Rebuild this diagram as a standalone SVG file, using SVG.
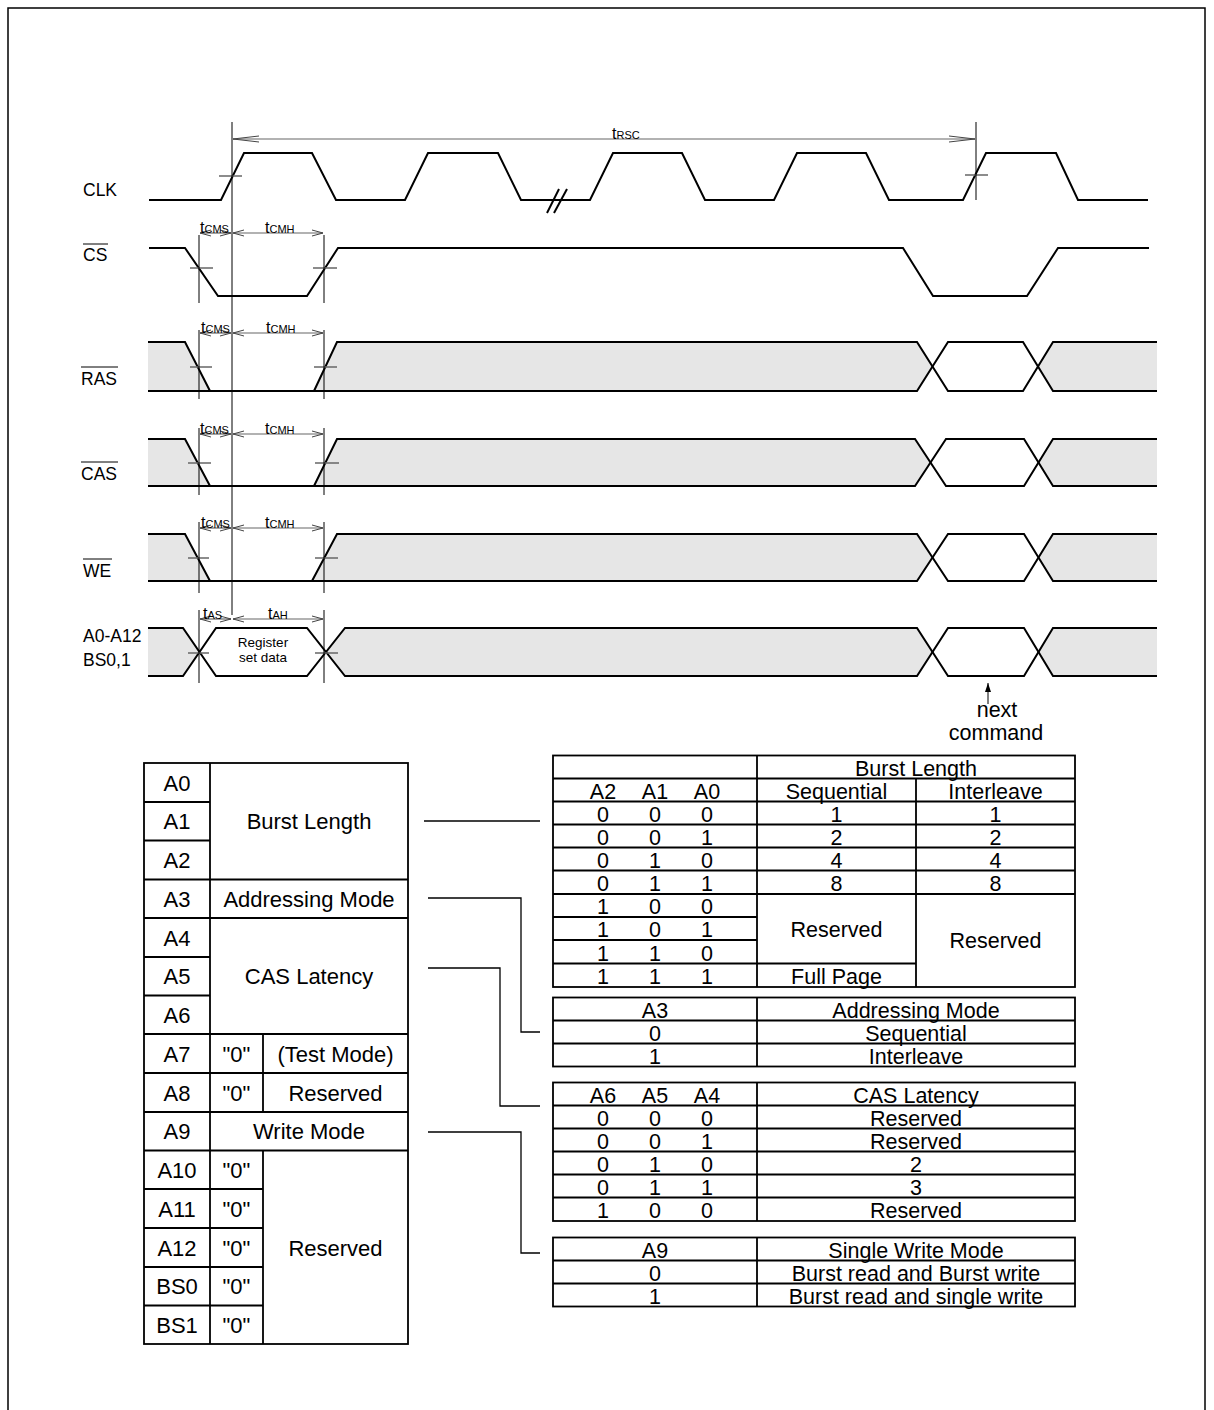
<svg xmlns="http://www.w3.org/2000/svg" width="1214" height="1410" viewBox="0 0 1214 1410">
<style>
.w{fill:none;stroke:#000;stroke-width:2;stroke-linejoin:miter}
.g{fill:#e6e6e6;stroke:none}
.tk{stroke:#666;stroke-width:1.5}
.dim{stroke:#000;stroke-width:1}
.ar{stroke:#666;stroke-width:1.2;fill:none}
.tb{fill:none;stroke:#000;stroke-width:1.8}
.cn{fill:none;stroke:#000;stroke-width:1.3}
text{font-family:"Liberation Sans",Arial,sans-serif;fill:#000}
.lb{font-size:17.5px}
.tt{font-size:21.5px;text-anchor:middle}
.tl{font-size:22px;text-anchor:middle}
.sm{font-size:13.5px;text-anchor:middle}
.t{font-size:16px}
.s{font-size:11px}
</style>
<defs>
<marker id="ah" markerWidth="12" markerHeight="8" refX="11" refY="4" orient="auto-start-reverse" markerUnits="userSpaceOnUse"><path d="M0,1 L11,4 L0,7" fill="none" stroke="#444" stroke-width="1"/></marker>
<marker id="ahL" markerWidth="28" markerHeight="8" refX="26" refY="4" orient="auto-start-reverse" markerUnits="userSpaceOnUse"><path d="M0,1 L26,4 L0,7" fill="none" stroke="#444" stroke-width="1"/></marker>
<marker id="af" markerWidth="10" markerHeight="10" refX="9" refY="5" orient="auto" markerUnits="userSpaceOnUse"><path d="M0,2 L9,5 L0,8 Z" fill="#000"/></marker>
</defs>
<rect x="8" y="8" width="1197" height="1415" fill="none" stroke="#000" stroke-width="1.5"/>

<g id="labels">
<text class="lb" x="83" y="196">CLK</text>
<text class="lb" x="83" y="261">CS</text><line class="dim" x1="83" y1="244" x2="108" y2="244"/>
<text class="lb" x="81" y="385">RAS</text><line class="dim" x1="81" y1="367" x2="118" y2="367"/>
<text class="lb" x="81" y="480">CAS</text><line class="dim" x1="81" y1="462" x2="118" y2="462"/>
<text class="lb" x="83" y="577">WE</text><line class="dim" x1="83" y1="559" x2="112" y2="559"/>
<text class="lb" x="83" y="642">A0-A12</text>
<text class="lb" x="83" y="666">BS0,1</text>
</g>

<g id="clk">
<polyline class="w" points="149,200 221,200 244,153 312,153 336,200 405,200 428,153 498,153 521,200 590,200 613,153 682,153 705,200 774,200 797,153 866,153 889,200 963,200 986,153 1056,153 1078,200 1148,200"/>
<line class="w" x1="547" y1="213" x2="559" y2="189"/>
<line class="w" x1="554" y1="213" x2="567" y2="189"/>
<line class="tk" x1="219" y1="176" x2="242" y2="176"/>
<line class="tk" x1="965" y1="175" x2="988" y2="175"/>
</g>

<g id="cs">
<polyline class="w" points="149,248 185,248 218,296 307,296 338,248 903,248 933,296 1027,296 1058,248 1149,248"/>
<line class="tk" x1="190" y1="268" x2="213" y2="268"/>
<line class="tk" x1="313" y1="268" x2="337" y2="268"/>
</g>

<g id="ras">
<polygon class="g" points="148,342 185,342 210,391 148,391"/>
<polygon class="g" points="314,391 337,342 917,342 932,366.5 917,391"/>
<polygon class="g" points="1038,366.5 1053,342 1157,342 1157,391 1053,391"/>
<polyline class="w" points="148,342 185,342 210,391"/>
<polyline class="w" points="148,391 917,391 948,342 1023,342 1053,391 1157,391"/>
<polyline class="w" points="314,391 337,342 917,342 948,391 1023,391 1053,342 1157,342"/>
<line class="tk" x1="190" y1="367" x2="212" y2="367"/>
<line class="tk" x1="314" y1="367" x2="337" y2="367"/>
</g>

<g id="cas">
<polygon class="g" points="148,439 185,439 210,486 148,486"/>
<polygon class="g" points="314,486 337,439 915,439 930,462.5 915,486"/>
<polygon class="g" points="1038,462.5 1053,439 1157,439 1157,486 1053,486"/>
<polyline class="w" points="148,439 185,439 210,486"/>
<polyline class="w" points="148,486 915,486 946,439 1024,439 1053,486 1157,486"/>
<polyline class="w" points="314,486 337,439 915,439 946,486 1024,486 1053,439 1157,439"/>
<line class="tk" x1="188" y1="463" x2="211" y2="463"/>
<line class="tk" x1="315" y1="463" x2="339" y2="463"/>
</g>

<g id="we">
<polygon class="g" points="148,534 185,534 210,581 148,581"/>
<polygon class="g" points="312,581 337,534 917,534 932,557.5 917,581"/>
<polygon class="g" points="1038,557.5 1053,534 1157,534 1157,581 1053,581"/>
<polyline class="w" points="148,534 185,534 210,581"/>
<polyline class="w" points="148,581 917,581 948,534 1024,534 1053,581 1157,581"/>
<polyline class="w" points="312,581 337,534 917,534 948,581 1024,581 1053,534 1157,534"/>
<line class="tk" x1="188" y1="558" x2="209" y2="558"/>
<line class="tk" x1="315" y1="558" x2="338" y2="558"/>
</g>

<g id="addr">
<polygon class="g" points="148,628 183,628 199.5,652 183,676 148,676"/>
<polygon class="g" points="326,652 345,628 917,628 932.5,652 917,676 345,676"/>
<polygon class="g" points="1038,652 1053,628 1157,628 1157,676 1053,676"/>
<polyline class="w" points="148,628 183,628 216,676 307,676 345,628 917,628 948,676 1024,676 1053,628 1157,628"/>
<polyline class="w" points="148,676 183,676 216,628 307,628 345,676 917,676 948,628 1024,628 1053,676 1157,676"/>
<line class="tk" x1="188" y1="653" x2="209" y2="653"/>
<line class="tk" x1="315" y1="653" x2="338" y2="653"/>
<text class="sm" x="263" y="647">Register</text>
<text class="sm" x="263" y="662">set data</text>
</g>

<g id="timing-dims">
<line class="dim" x1="232" y1="122" x2="232" y2="615"/>
<line class="dim" x1="976" y1="122" x2="976" y2="200"/>
<line class="ar" x1="233" y1="139" x2="975" y2="139" marker-start="url(#ahL)" marker-end="url(#ahL)"/>
<text x="612" y="139"><tspan class="t">t</tspan><tspan class="s">RSC</tspan></text>

<line class="dim" x1="199" y1="235" x2="199" y2="303"/>
<line class="dim" x1="324" y1="235" x2="324" y2="303"/>
<line class="ar" x1="200" y1="233" x2="231" y2="233" marker-start="url(#ah)" marker-end="url(#ah)"/>
<line class="ar" x1="233" y1="233" x2="323" y2="233" marker-start="url(#ah)" marker-end="url(#ah)"/>
<text x="200" y="233"><tspan class="t">t</tspan><tspan class="s">CMS</tspan></text>
<text x="265" y="233"><tspan class="t">t</tspan><tspan class="s">CMH</tspan></text>

<line class="dim" x1="199" y1="330" x2="199" y2="399"/>
<line class="dim" x1="324" y1="330" x2="324" y2="399"/>
<line class="ar" x1="200" y1="333" x2="231" y2="333" marker-start="url(#ah)" marker-end="url(#ah)"/>
<line class="ar" x1="233" y1="333" x2="323" y2="333" marker-start="url(#ah)" marker-end="url(#ah)"/>
<text x="201" y="333"><tspan class="t">t</tspan><tspan class="s">CMS</tspan></text>
<text x="266" y="333"><tspan class="t">t</tspan><tspan class="s">CMH</tspan></text>

<line class="dim" x1="199" y1="428" x2="199" y2="495"/>
<line class="dim" x1="324" y1="428" x2="324" y2="495"/>
<line class="ar" x1="200" y1="434" x2="231" y2="434" marker-start="url(#ah)" marker-end="url(#ah)"/>
<line class="ar" x1="233" y1="434" x2="323" y2="434" marker-start="url(#ah)" marker-end="url(#ah)"/>
<text x="200" y="434"><tspan class="t">t</tspan><tspan class="s">CMS</tspan></text>
<text x="265" y="434"><tspan class="t">t</tspan><tspan class="s">CMH</tspan></text>

<line class="dim" x1="199" y1="522" x2="199" y2="593"/>
<line class="dim" x1="324" y1="522" x2="324" y2="593"/>
<line class="ar" x1="200" y1="528" x2="231" y2="528" marker-start="url(#ah)" marker-end="url(#ah)"/>
<line class="ar" x1="233" y1="528" x2="323" y2="528" marker-start="url(#ah)" marker-end="url(#ah)"/>
<text x="201" y="528"><tspan class="t">t</tspan><tspan class="s">CMS</tspan></text>
<text x="265" y="528"><tspan class="t">t</tspan><tspan class="s">CMH</tspan></text>

<line class="dim" x1="199" y1="610" x2="199" y2="683"/>
<line class="dim" x1="324" y1="610" x2="324" y2="683"/>
<line class="ar" x1="200" y1="619" x2="231" y2="619" marker-start="url(#ah)" marker-end="url(#ah)"/>
<line class="ar" x1="233" y1="619" x2="323" y2="619" marker-start="url(#ah)" marker-end="url(#ah)"/>
<text x="203" y="619"><tspan class="t">t</tspan><tspan class="s">AS</tspan></text>
<text x="268" y="619"><tspan class="t">t</tspan><tspan class="s">AH</tspan></text>
</g>

<g id="next-command">
<line class="dim" x1="988" y1="704" x2="988" y2="683" marker-end="url(#af)"/>
<text class="tt" x="997" y="717">next</text>
<text class="tt" x="996" y="740">command</text>
</g>

<g id="register-table">
<rect class="tb" x="144" y="763" width="264" height="581"/>
<line class="tb" x1="210" y1="763" x2="210" y2="1344"/>
<path class="tb" d="M144,802H210 M144,840.5H210 M144,879.5H408 M144,918H408 M144,957H210 M144,995.5H210 M144,1034H408 M144,1073H408 M144,1112H408 M144,1150.5H408 M144,1189H263 M144,1228H263 M144,1267H263 M144,1305.5H263 M263,1034V1112 M263,1150.5V1344"/>
<text class="tl" x="177" y="790.5">A0</text>
<text class="tl" x="177" y="829">A1</text>
<text class="tl" x="177" y="868">A2</text>
<text class="tl" x="177" y="906.5">A3</text>
<text class="tl" x="177" y="945.5">A4</text>
<text class="tl" x="177" y="984">A5</text>
<text class="tl" x="177" y="1023">A6</text>
<text class="tl" x="177" y="1061.5">A7</text>
<text class="tl" x="177" y="1100.5">A8</text>
<text class="tl" x="177" y="1139">A9</text>
<text class="tl" x="177" y="1178">A10</text>
<text class="tl" x="177" y="1216.5">A11</text>
<text class="tl" x="177" y="1255.5">A12</text>
<text class="tl" x="177" y="1294">BS0</text>
<text class="tl" x="177" y="1333">BS1</text>
<text class="tl" x="309" y="829">Burst Length</text>
<text class="tl" x="309" y="906.5">Addressing Mode</text>
<text class="tl" x="309" y="984">CAS Latency</text>
<text class="tl" x="236.5" y="1061.5">"0"</text>
<text class="tl" x="335.5" y="1061.5">(Test Mode)</text>
<text class="tl" x="236.5" y="1100.5">"0"</text>
<text class="tl" x="335.5" y="1100.5">Reserved</text>
<text class="tl" x="309" y="1139">Write Mode</text>
<text class="tl" x="236.5" y="1178">"0"</text>
<text class="tl" x="236.5" y="1216.5">"0"</text>
<text class="tl" x="236.5" y="1255.5">"0"</text>
<text class="tl" x="236.5" y="1294">"0"</text>
<text class="tl" x="236.5" y="1333">"0"</text>
<text class="tl" x="335.5" y="1255.5">Reserved</text>
</g>

<g id="connectors">
<polyline class="cn" points="424,821 540,821"/>
<polyline class="cn" points="428,898 521,898 521,1032 540,1032"/>
<polyline class="cn" points="428,968 500,968 500,1106 540,1106"/>
<polyline class="cn" points="428,1132 521,1132 521,1253 540,1253"/>
</g>

<g id="burst-table">
<rect class="tb" x="553" y="755.5" width="522" height="231.5"/>
<path class="tb" d="M757,755.5V987 M916,778.5V987 M553,778.5H1075 M553,801.5H1075 M553,824.5H1075 M553,847.5H1075 M553,870.5H1075 M553,894H1075 M553,917H757 M553,940H757 M553,963.5H916"/>
<text class="tt" x="916" y="775.5">Burst Length</text>
<text class="tt" x="603" y="798.5">A2</text><text class="tt" x="655" y="798.5">A1</text><text class="tt" x="707" y="798.5">A0</text>
<text class="tt" x="836.5" y="798.5">Sequential</text><text class="tt" x="995.5" y="798.5">Interleave</text>
<text class="tt" x="603" y="821.5">0</text><text class="tt" x="655" y="821.5">0</text><text class="tt" x="707" y="821.5">0</text><text class="tt" x="836.5" y="821.5">1</text><text class="tt" x="995.5" y="821.5">1</text>
<text class="tt" x="603" y="844.5">0</text><text class="tt" x="655" y="844.5">0</text><text class="tt" x="707" y="844.5">1</text><text class="tt" x="836.5" y="844.5">2</text><text class="tt" x="995.5" y="844.5">2</text>
<text class="tt" x="603" y="867.5">0</text><text class="tt" x="655" y="867.5">1</text><text class="tt" x="707" y="867.5">0</text><text class="tt" x="836.5" y="867.5">4</text><text class="tt" x="995.5" y="867.5">4</text>
<text class="tt" x="603" y="891">0</text><text class="tt" x="655" y="891">1</text><text class="tt" x="707" y="891">1</text><text class="tt" x="836.5" y="891">8</text><text class="tt" x="995.5" y="891">8</text>
<text class="tt" x="603" y="914">1</text><text class="tt" x="655" y="914">0</text><text class="tt" x="707" y="914">0</text>
<text class="tt" x="603" y="937">1</text><text class="tt" x="655" y="937">0</text><text class="tt" x="707" y="937">1</text>
<text class="tt" x="603" y="960.5">1</text><text class="tt" x="655" y="960.5">1</text><text class="tt" x="707" y="960.5">0</text>
<text class="tt" x="603" y="984">1</text><text class="tt" x="655" y="984">1</text><text class="tt" x="707" y="984">1</text>
<text class="tt" x="836.5" y="937">Reserved</text>
<text class="tt" x="995.5" y="948">Reserved</text>
<text class="tt" x="836.5" y="984">Full Page</text>
</g>

<g id="addressing-table">
<rect class="tb" x="553" y="997.5" width="522" height="69"/>
<path class="tb" d="M757,997.5V1066.5 M553,1020.5H1075 M553,1043.5H1075"/>
<text class="tt" x="655" y="1017.5">A3</text><text class="tt" x="916" y="1017.5">Addressing Mode</text>
<text class="tt" x="655" y="1040.5">0</text><text class="tt" x="916" y="1040.5">Sequential</text>
<text class="tt" x="655" y="1063.5">1</text><text class="tt" x="916" y="1063.5">Interleave</text>
</g>

<g id="cas-table">
<rect class="tb" x="553" y="1082.5" width="522" height="138.5"/>
<path class="tb" d="M757,1082.5V1221 M553,1105.5H1075 M553,1128.5H1075 M553,1151.5H1075 M553,1174.5H1075 M553,1197.5H1075"/>
<text class="tt" x="603" y="1102.5">A6</text><text class="tt" x="655" y="1102.5">A5</text><text class="tt" x="707" y="1102.5">A4</text><text class="tt" x="916" y="1102.5">CAS Latency</text>
<text class="tt" x="603" y="1125.5">0</text><text class="tt" x="655" y="1125.5">0</text><text class="tt" x="707" y="1125.5">0</text><text class="tt" x="916" y="1125.5">Reserved</text>
<text class="tt" x="603" y="1148.5">0</text><text class="tt" x="655" y="1148.5">0</text><text class="tt" x="707" y="1148.5">1</text><text class="tt" x="916" y="1148.5">Reserved</text>
<text class="tt" x="603" y="1171.5">0</text><text class="tt" x="655" y="1171.5">1</text><text class="tt" x="707" y="1171.5">0</text><text class="tt" x="916" y="1171.5">2</text>
<text class="tt" x="603" y="1194.5">0</text><text class="tt" x="655" y="1194.5">1</text><text class="tt" x="707" y="1194.5">1</text><text class="tt" x="916" y="1194.5">3</text>
<text class="tt" x="603" y="1218">1</text><text class="tt" x="655" y="1218">0</text><text class="tt" x="707" y="1218">0</text><text class="tt" x="916" y="1218">Reserved</text>
</g>

<g id="write-table">
<rect class="tb" x="553" y="1237.5" width="522" height="69"/>
<path class="tb" d="M757,1237.5V1306.5 M553,1260.5H1075 M553,1283.5H1075"/>
<text class="tt" x="655" y="1257.5">A9</text><text class="tt" x="916" y="1257.5">Single Write Mode</text>
<text class="tt" x="655" y="1280.5">0</text><text class="tt" x="916" y="1280.5">Burst read and Burst write</text>
<text class="tt" x="655" y="1303.5">1</text><text class="tt" x="916" y="1303.5">Burst read and single write</text>
</g>
</svg>
